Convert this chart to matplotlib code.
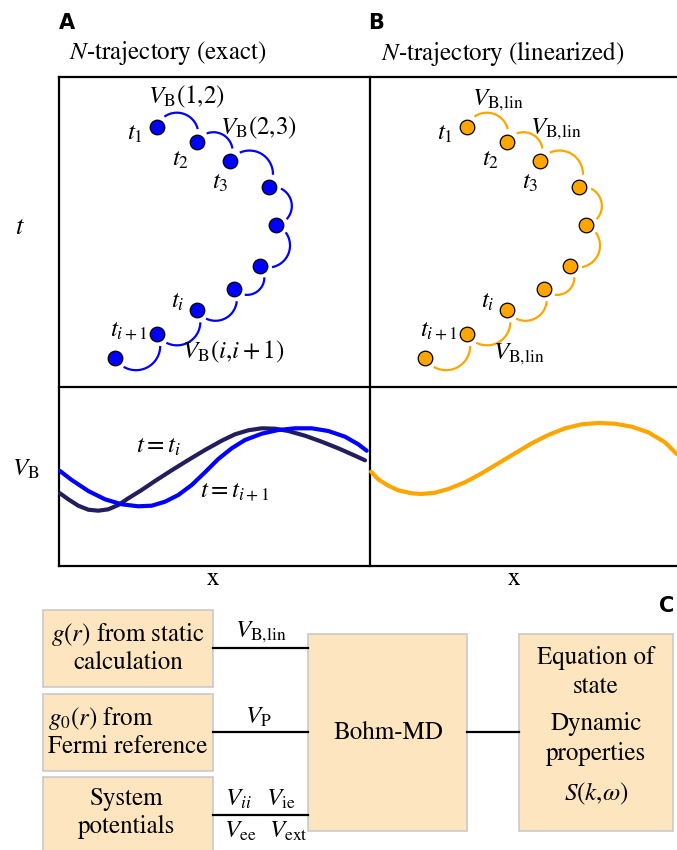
import numpy as np
import matplotlib
matplotlib.use("Agg")
import matplotlib.pyplot as plt
from matplotlib.patches import Rectangle

plt.rcParams['font.family'] = ['STIXGeneral', 'DejaVu Serif']
plt.rcParams['mathtext.fontset'] = 'stix'

## trajectory beads (pixel coords of panel A, B is shifted)
dot_x = [156.7, 197, 230, 269, 276, 260, 234, 197, 157, 115]
dot_y = [126.7, 141.7, 161, 187, 225, 266, 289, 310, 334, 358]
shift_B = 310

t_labels = [r'$t_1$', r'$t_2$', r'$t_3$', r'$t_i$', r'$t_{i+1}$']
t_pos = [(135, 134), (181, 160), (220, 183), (178, 302), (129, 330)]
vA_labels = [r'$V_{\mathrm{B}}(1{,}2)$', r'$V_{\mathrm{B}}(2{,}3)$', r'$V_{\mathrm{B}}(i{,}i+1)$']
vA_pos = [(186, 97), (258, 128), (233, 352)]
vB_pos = [(498, 100), (556, 129), (519, 354)]

## bohm potential snapshots
dark_x = [60, 68.3, 78.3, 88.3, 98.3, 108.3, 118.3, 128.3, 141.7, 155, 171.7, 188.3,
          205, 221.7, 235, 248.3, 261.7, 275, 288.3, 305, 321.7, 338.3, 355, 365]
dark_y = [493.3, 499.3, 505.7, 509.7, 510.7, 509.3, 505, 498.3, 490, 481, 470.3, 460,
          450, 440.7, 434.3, 430.3, 428.3, 428.7, 431, 435.7, 441.7, 448.3, 455.7, 460.3]
blue_x = [60, 71.7, 88.3, 105, 121.7, 138.3, 151.7, 165, 178.3, 191.7, 205, 218.3,
          231.7, 245, 261.7, 278.3, 295, 311.7, 328.3, 345, 358.3, 366.7]
blue_y = [471, 480, 491, 499.3, 504.3, 506.3, 505.7, 501.7, 495, 485, 472.3, 459,
          448.3, 440, 433.7, 430, 428.3, 428.3, 431, 436.7, 444.3, 450.7]
orng_x = [371, 378.3, 388.3, 398.3, 411.7, 421.7, 435, 448.3, 465, 481.7, 498.3, 515,
          531.7, 548.3, 565, 581.7, 598.3, 615, 631.7, 648.3, 665, 676.7]
orng_y = [471.7, 479.3, 485.7, 490.3, 493.3, 494, 492.7, 489, 482.3, 473.3, 463.3, 453.3,
          443.3, 435, 428.3, 424.3, 423, 423.7, 426.7, 432.3, 442.3, 454]

## flow chart
in_boxes = [(43, 610, 170, 77), (43, 694, 170, 77), (43, 777, 170, 80)]
in_text = [["$g(r)$ from static", "calculation"],
           ["$g_0(r)$ from", "Fermi reference"],
           ["System", "potentials"]]
line_y = [648, 732, 815]
bohm_box = (308, 634, 159, 197)
out_box = (519, 634, 154, 197)

BLUE = '#0000FF'
ORANGE = '#FFA500'
NAVY = '#221D5E'
FILL = '#FDE5BF'
EDGE = '#C9C9C9'
FS = 18

fig = plt.figure(figsize=(6.77, 8.5), dpi=100)
ax = fig.add_axes([0, 0, 1, 1])
ax.set_xlim(0, 677)
ax.set_ylim(850, 0)
ax.axis('off')

# frames
for yy in [77, 387, 566]:
    ax.plot([59, 677], [yy, yy], color='k', lw=1.6)
ax.plot([59, 59], [77, 566], color='k', lw=1.6)
ax.plot([370, 370], [77, 566], color='k', lw=1.6)

for lab, (x, y) in [('A', (67, 23)), ('B', (376, 23)), ('C', (667, 606))]:
    ax.text(x, y, lab, fontsize=15, fontweight='bold', family='DejaVu Sans', ha='center', va='center')
ax.text(69, 53, r'$N$-trajectory (exact)', fontsize=FS, ha='left', va='center')
ax.text(381, 53, r'$N$-trajectory (linearized)', fontsize=FS, ha='left', va='center')
ax.text(20, 228, r'$t$', fontsize=FS + 1, ha='center', va='center')
ax.text(26, 470, r'$V_{\mathrm{B}}$', fontsize=FS, ha='center', va='center')
ax.text(213, 579, 'x', fontsize=FS, ha='center', va='center')
ax.text(514, 579, 'x', fontsize=FS, ha='center', va='center')


def arcs(xs, ys, color):
    for i in range(len(xs) - 1):
        p0 = np.array([xs[i], ys[i]])
        p1 = np.array([xs[i + 1], ys[i + 1]])
        d = p1 - p0
        r = np.hypot(*d) / 2
        u = d / (2 * r)
        n = np.array([u[1], -u[0]])
        m = (p0 + p1) / 2
        th = np.linspace(0, np.pi, 80)
        pts = m[None, :] - r * np.cos(th)[:, None] * u + r * np.sin(th)[:, None] * n
        keep = (np.hypot(*(pts - p0).T) > 12) & (np.hypot(*(pts - p1).T) > 12)
        ax.plot(pts[keep, 0], pts[keep, 1], color=color, lw=1.6, solid_capstyle='butt')
    ax.plot(xs, ys, 'o', ms=10.5, mfc=color, mec='k', mew=0.9, zorder=5)


arcs(dot_x, dot_y, BLUE)
arcs([x + shift_B for x in dot_x], dot_y, ORANGE)

for lab, (x, y) in zip(t_labels, t_pos):
    ax.text(x, y, lab, fontsize=FS, ha='center', va='center')
    ax.text(x + shift_B, y, lab, fontsize=FS, ha='center', va='center')
for lab, (x, y) in zip(vA_labels, vA_pos):
    ax.text(x, y, lab, fontsize=FS, ha='center', va='center')
for x, y in vB_pos:
    ax.text(x, y, r'$V_{\mathrm{B{,}lin}}$', fontsize=FS, ha='center', va='center')

# potentials
ax.plot(dark_x, dark_y, color=NAVY, lw=3, solid_capstyle='round', solid_joinstyle='round')
ax.plot(blue_x, blue_y, color=BLUE, lw=3, solid_capstyle='round', solid_joinstyle='round')
ax.plot(orng_x, orng_y, color=ORANGE, lw=3, solid_capstyle='round', solid_joinstyle='round')
ax.text(158, 447, r'$t=t_i$', fontsize=FS, ha='center', va='center')
ax.text(235, 491, r'$t=t_{i+1}$', fontsize=FS, ha='center', va='center')

# flow chart
for (bx, by, bw, bh) in in_boxes + [bohm_box, out_box]:
    ax.add_patch(Rectangle((bx, by), bw, bh, fc=FILL, ec=EDGE, lw=1.2))

ax.text(128, 635, in_text[0][0], fontsize=FS, ha='center', va='center')
ax.text(128, 663, in_text[0][1], fontsize=FS, ha='center', va='center')
ax.text(48, 718, in_text[1][0], fontsize=FS, ha='left', va='center')
ax.text(48, 747, in_text[1][1], fontsize=FS, ha='left', va='center')
ax.text(127, 799, in_text[2][0], fontsize=FS, ha='center', va='center')
ax.text(127, 827, in_text[2][1], fontsize=FS, ha='center', va='center')

for yy in line_y:
    ax.plot([213, 308], [yy, yy], color='k', lw=1.6)
ax.plot([467, 519], [732, 732], color='k', lw=1.6)

ax.text(261, 632, r'$V_{\mathrm{B{,}lin}}$', fontsize=FS, ha='center', va='center')
ax.text(258, 718, r'$V_{\mathrm{P}}$', fontsize=FS, ha='center', va='center')
ax.text(238, 800, r'$V_{ii}$', fontsize=FS, ha='center', va='center')
ax.text(281, 800, r'$V_{\mathrm{ie}}$', fontsize=FS, ha='center', va='center')
ax.text(240, 832, r'$V_{\mathrm{ee}}$', fontsize=FS, ha='center', va='center')
ax.text(288, 832, r'$V_{\mathrm{ext}}$', fontsize=FS, ha='center', va='center')

ax.text(388, 733, 'Bohm-MD', fontsize=FS, ha='center', va='center')
for txt, yy in [('Equation of', 658), ('state', 687), ('Dynamic', 724), ('properties', 754),
                (r'$S(k{,}\omega)$', 794)]:
    ax.text(596, yy, txt, fontsize=FS, ha='center', va='center')

fig.savefig('out.png', dpi=100)
